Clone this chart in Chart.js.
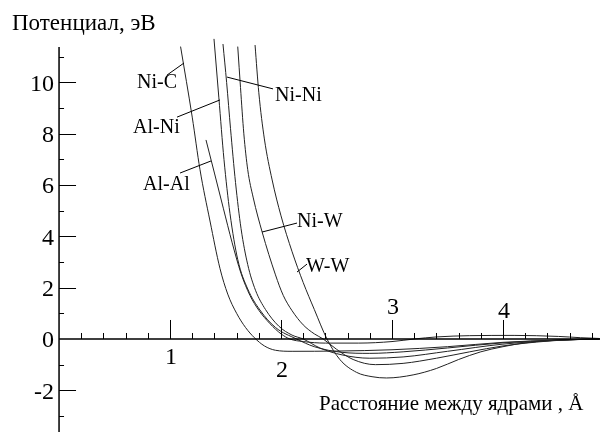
<!DOCTYPE html>
<html>
<head>
<meta charset="utf-8">
<script src="https://cdn.jsdelivr.net/npm/chart.js@4.4.1/dist/chart.umd.min.js"></script>
<style>
  html, body { margin:0; padding:0; background:#fff; }
  #wrap { width:600px; height:432px; }
</style>
</head>
<body>
<div id="wrap"><canvas id="pot"></canvas></div>
<script>
// ── DATA ────────────────────────────────────────
const niC_x  = [1.095, 1.20, 1.27, 1.36, 1.45, 1.52, 1.60, 1.68, 1.76, 1.85, 1.95, 2.1, 2.5, 3.0, 3.5, 4.0, 4.5, 4.87];
const niC_y  = [11.4, 8.65, 6.6, 4.6, 2.75, 1.75, 1.0, 0.45, 0.05, -0.27, -0.44, -0.48, -0.47, -0.42, -0.3, -0.13, -0.04, 0];

const alAl_x = [1.324, 1.40, 1.48, 1.56, 1.64, 1.72, 1.80, 1.90, 2.0, 2.08, 2.2, 2.4, 2.7, 3.0, 3.2, 3.4, 3.7, 4.1, 4.5, 4.7, 4.87];
const alAl_y = [7.76, 6.47, 5.1, 3.75, 2.55, 1.7, 1.12, 0.6, 0.2, 0, -0.1, -0.16, -0.16, -0.1, 0, 0.08, 0.13, 0.14, 0.1, 0.05, 0.02];

const alNi_x = [1.396, 1.44, 1.486, 1.54, 1.61, 1.70, 1.81, 1.95, 2.14, 2.3, 2.55, 2.8, 3.1, 3.5, 4.0, 4.5, 4.87];
const alNi_y = [11.7, 9.4, 7.0, 4.9, 3.1, 1.95, 1.13, 0.45, 0, -0.3, -0.52, -0.56, -0.5, -0.35, -0.15, -0.04, 0];

const niNi_x = [1.477, 1.51, 1.545, 1.59, 1.64, 1.70, 1.77, 1.86, 1.98, 2.1, 2.2, 2.35, 2.55, 2.8, 3.1, 3.5, 4.0, 4.5, 4.87];
const niNi_y = [11.5, 10.0, 8.2, 6.1, 4.3, 2.9, 1.9, 1.15, 0.5, 0.15, 0, -0.35, -0.62, -0.75, -0.7, -0.48, -0.2, -0.05, 0];

const niW_x  = [1.61, 1.635, 1.665, 1.70, 1.75, 1.83, 1.95, 2.02, 2.1, 2.2, 2.3, 2.38, 2.5, 2.65, 2.85, 3.1, 3.4, 3.7, 4.0, 4.3, 4.6, 4.87];
const niW_y  = [11.4, 9.8, 8.0, 6.6, 5.5, 4.17, 2.5, 1.7, 1.1, 0.55, 0.2, 0, -0.4, -0.8, -1.0, -0.95, -0.75, -0.5, -0.27, -0.12, -0.03, 0];

const wW_x   = [1.766, 1.80, 1.85, 1.92, 2.0, 2.1, 2.2, 2.3, 2.414, 2.53, 2.68, 2.82, 2.95, 3.19, 3.4, 3.6, 3.8, 4.0, 4.2, 4.5, 4.87];
const wW_y   = [11.46, 9.6, 7.8, 6.2, 4.8, 3.4, 2.2, 1.15, 0, -0.8, -1.3, -1.47, -1.52, -1.4, -1.15, -0.8, -0.5, -0.3, -0.15, -0.04, 0];

const xTickLabels = [1, 2, 3, 4];
const yTickLabels = [-2, 0, 2, 4, 6, 8, 10];

// curve labels: text, text anchor, leader start, leader end (data units)
const curveLabels = [
  ['Ni-C',  0.703, 9.98, 0.973, 10.29, 1.126, 10.76],
  ['Ni-Ni', 1.946, 9.47, 1.514, 10.21, 1.928, 9.75],
  ['Al-Ni', 0.667, 8.23, 1.063, 8.65, 1.45, 9.32],
  ['Al-Al', 0.757, 6.0, 1.09, 6.47, 1.369, 6.94],
  ['Ni-W',  2.144, 4.56, 1.829, 4.17, 2.144, 4.52],
  ['W-W',   2.225, 2.81, 2.144, 2.61, 2.234, 2.92],
];

const SERIF = '"Liberation Serif", "DejaVu Serif", serif';
const pts = (xs, ys) => xs.map((x, i) => ({x, y: ys[i]}));
const line = d => ({
  data: d, borderColor:'#222', borderWidth:1, pointRadius:0,
  fill:false, cubicInterpolationMode:'monotone'
});

// ── AXES / TEXT PLUGIN ──────────────────────────
const axesPlugin = {
  id:'axes',
  afterDatasetsDraw(chart) {
    const {ctx, scales:{x, y}} = chart;
    const X = v => x.getPixelForValue(v), Y = v => y.getPixelForValue(v);
    const x0 = X(0), y0 = Y(0);
    ctx.save();
    ctx.strokeStyle = '#000';
    ctx.fillStyle = '#000';

    // axis lines
    ctx.lineWidth = 1.5;
    ctx.beginPath();
    ctx.moveTo(x0, Y(11.38)); ctx.lineTo(x0, chart.height);
    ctx.moveTo(x0, y0); ctx.lineTo(chart.width, y0);
    ctx.stroke();

    // x ticks (pointing up)
    ctx.lineWidth = 1;
    ctx.beginPath();
    for (let i = 1; i * 0.2 < x.max - 0.05; i++) {
      const px = Math.round(X(i * 0.2)) + 0.5;
      const len = i % 5 === 0 ? 19 : 6;
      ctx.moveTo(px, y0); ctx.lineTo(px, y0 - len);
    }
    // y ticks (pointing right)
    for (let v = -3; v <= 11; v++) {
      if (v === 0) continue;
      const py = Math.round(Y(v)) + 0.5;
      const len = v % 2 === 0 ? 17 : 5;
      ctx.moveTo(x0, py); ctx.lineTo(x0 + len, py);
    }
    ctx.stroke();

    // tick labels
    ctx.font = '24px ' + SERIF;
    ctx.textAlign = 'right'; ctx.textBaseline = 'middle';
    yTickLabels.forEach(v => ctx.fillText(String(v), x0 - 5, Y(v) + 2));
    const xLabelDy = [19, 32, -31, -27];
    ctx.textAlign = 'center';
    xTickLabels.forEach((v, i) => ctx.fillText(String(v), X(v) + 1, y0 + xLabelDy[i]));

    // titles
    ctx.textAlign = 'left'; ctx.textBaseline = 'alphabetic';
    ctx.font = '23px ' + SERIF;
    ctx.fillText('Потенциал, эВ', 12, 30);
    ctx.font = '21px ' + SERIF;
    ctx.fillText('Расстояние между ядрами , Å', 319, 410);

    // curve labels with leader lines
    ctx.font = '20px ' + SERIF;
    ctx.textBaseline = 'middle';
    ctx.lineWidth = 1;
    curveLabels.forEach(([t, tx, ty, ax, ay, bx, by]) => {
      ctx.beginPath();
      ctx.moveTo(X(ax), Y(ay)); ctx.lineTo(X(bx), Y(by));
      ctx.stroke();
      ctx.fillText(t, X(tx), Y(ty));
    });
    ctx.restore();
  }
};

new Chart(document.getElementById('pot'), {
  type:'line',
  data:{
    datasets:[
      line(pts(niC_x, niC_y)),
      line(pts(alAl_x, alAl_y)),
      line(pts(alNi_x, alNi_y)),
      line(pts(niNi_x, niNi_y)),
      line(pts(niW_x, niW_y)),
      line(pts(wW_x, wW_y)),
    ]
  },
  options:{
    responsive:true, maintainAspectRatio:false, animation:false,
    layout:{padding:0},
    plugins:{legend:{display:false}, tooltip:{enabled:false}},
    scales:{
      x:{type:'linear', min:-0.532, max:4.874, display:false},
      y:{type:'linear', min:-3.626, max:13.216, display:false}
    }
  },
  plugins:[axesPlugin]
});
</script>
</body>
</html>
